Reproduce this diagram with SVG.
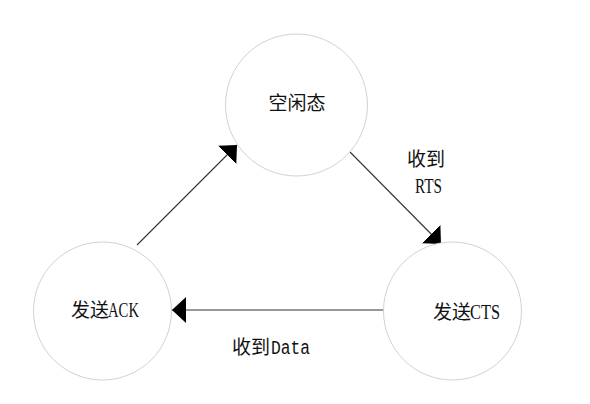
<svg xmlns="http://www.w3.org/2000/svg" width="590" height="404" viewBox="0 0 590 404">
<style>
.node{fill:#fff;stroke:#d2d2d2;stroke-width:1}
.cjk{font-family:"Noto Sans CJK SC","Noto Sans CJK JP",sans-serif;font-size:19px;fill:#111}
.lat{font-family:"Liberation Serif",serif;font-size:21px;fill:#111}
.mono{font-family:"Liberation Mono",monospace;font-size:20px;fill:#111}
.edge{fill:none;stroke:#333;stroke-width:1.1}
</style>
<defs>
<marker id="arr" markerUnits="userSpaceOnUse" viewBox="0 -13 14 26" refX="14" refY="0" markerWidth="14" markerHeight="26" orient="auto">
<path d="M0,-13 L14,0 L0,13 z" fill="#000"/>
</marker>
</defs>
<rect width="590" height="404" fill="#fff"/>
<g id="edges">
<path class="edge" d="M137,245 L237,145" marker-end="url(#arr)"/>
<path class="edge" d="M350,152 L441,244" marker-end="url(#arr)"/>
<path class="edge" d="M384,310 L172,310" stroke="#666" stroke-width="1.6" marker-end="url(#arr)"/>
<text class="cjk" x="407" y="166">收到</text>
<text class="lat" x="415" y="193" textLength="27" lengthAdjust="spacingAndGlyphs">RTS</text>
<text class="cjk" x="232" y="354">收到</text>
<text class="mono" x="271" y="354" textLength="39" lengthAdjust="spacingAndGlyphs">Data</text>
</g>
<g id="idle">
<circle class="node" cx="296.5" cy="105" r="71"/>
<text class="cjk" x="297" y="110" text-anchor="middle">空闲态</text>
</g>
<g id="sendACK">
<circle class="node" cx="102.5" cy="311" r="69"/>
<text class="cjk" x="71" y="317">发送</text>
<text class="lat" x="108" y="317" textLength="31" lengthAdjust="spacingAndGlyphs">ACK</text>
</g>
<g id="sendCTS">
<circle class="node" cx="452.5" cy="311" r="69"/>
<text class="cjk" x="433" y="319">发送</text>
<text class="lat" x="470" y="319" textLength="30" lengthAdjust="spacingAndGlyphs">CTS</text>
</g>
</svg>
